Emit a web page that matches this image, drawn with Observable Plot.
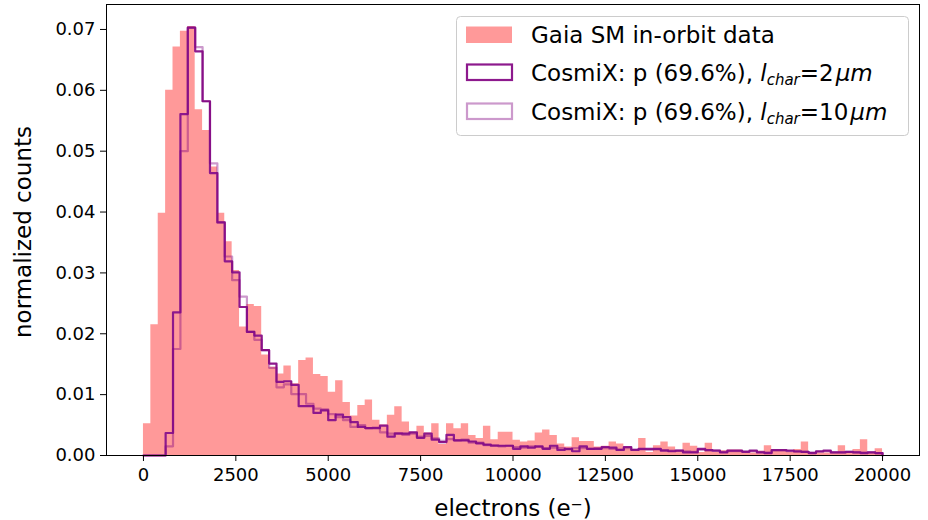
<!DOCTYPE html>
<html>
<head>
<meta charset="utf-8">
<script src="https://cdn.jsdelivr.net/npm/d3@7"></script>
<script src="https://cdn.jsdelivr.net/npm/@observablehq/plot@0.6"></script>
<style>
  body { margin: 0; background: #fff; }
  #chart { position: relative; width: 928px; height: 520px; }
</style>
</head>
<body>
<div id="chart"></div>
<script>
// ---- data ----
const binWidth = 200;
const gaia = [
  0.0052, 0.0215, 0.0398, 0.0600, 0.0671, 0.0697, 0.0705, 0.0568, 0.0534, 0.0474,
  0.0398, 0.0351, 0.0304, 0.0211, 0.0248, 0.0245, 0.0165, 0.0145, 0.0134, 0.0147,
  0.0118, 0.0156, 0.0160, 0.0133, 0.0130, 0.0104, 0.0123, 0.0087, 0.0065, 0.0082,
  0.0091, 0.0058, 0.0050, 0.0066, 0.0080, 0.0055, 0.0038, 0.0048, 0.0037, 0.0052,
  0.0018, 0.0052, 0.0044, 0.0052, 0.0033, 0.0028, 0.0048, 0.0026, 0.0038, 0.0038,
  0.0025, 0.0022, 0.0024, 0.0037, 0.0042, 0.0033, 0.0019, 0.0014, 0.0029, 0.0023,
  0.0023, 0.0014, 0.0015, 0.0022, 0.0019, 0.0014, 0.0010, 0.0028, 0.0005, 0.0016,
  0.0022, 0.0014, 0.0008, 0.0020, 0.0015, 0.0005, 0.0020, 0.0005, 0.0008, 0.0009,
  0.0009, 0.0006, 0.0004, 0.0007, 0.0016, 0.0010, 0.0010, 0.0005, 0.0010, 0.0022,
  0.0005, 0.0004, 0.0004, 0.0005, 0.0016, 0.0004, 0.0010, 0.0026, 0.0004, 0.0011
];
const cosmix2 = [
  0.0000, 0.0000, 0.0000, 0.0037, 0.0235, 0.0561, 0.0703, 0.0664, 0.0582, 0.0464,
  0.0383, 0.0319, 0.0301, 0.0244, 0.0203, 0.0197, 0.0173, 0.0151, 0.0121, 0.0122,
  0.0116, 0.0081, 0.0081, 0.0070, 0.0074, 0.0058, 0.0067, 0.0063, 0.0055, 0.0047,
  0.0045, 0.0045, 0.0049, 0.0031, 0.0036, 0.0036, 0.0038, 0.0029, 0.0036, 0.0026,
  0.0022, 0.0034, 0.0025, 0.0025, 0.0023, 0.0020, 0.0018, 0.0016, 0.0016, 0.0016,
  0.0011, 0.0015, 0.0013, 0.0015, 0.0011, 0.0016, 0.0009, 0.0011, 0.0007, 0.0015,
  0.0011, 0.0011, 0.0014, 0.0013, 0.0009, 0.0014, 0.0009, 0.0011, 0.0011, 0.0011,
  0.0008, 0.0007, 0.0008, 0.0005, 0.0005, 0.0011, 0.0009, 0.0008, 0.0005, 0.0008,
  0.0008, 0.0006, 0.0008, 0.0005, 0.0004, 0.0009, 0.0009, 0.0008, 0.0007, 0.0006,
  0.0004, 0.0007, 0.0008, 0.0005, 0.0005, 0.0006, 0.0005, 0.0004, 0.0005, 0.0004
];
const cosmix10 = [
  0.0000, 0.0000, 0.0000, 0.0015, 0.0175, 0.0500, 0.0703, 0.0671, 0.0582, 0.0480,
  0.0383, 0.0327, 0.0288, 0.0261, 0.0203, 0.0190, 0.0173, 0.0144, 0.0112, 0.0117,
  0.0101, 0.0101, 0.0085, 0.0077, 0.0076, 0.0068, 0.0063, 0.0058, 0.0047, 0.0050,
  0.0045, 0.0046, 0.0038, 0.0036, 0.0037, 0.0034, 0.0036, 0.0031, 0.0032, 0.0028,
  0.0024, 0.0027, 0.0025, 0.0026, 0.0021, 0.0021, 0.0017, 0.0017, 0.0015, 0.0016,
  0.0014, 0.0013, 0.0015, 0.0014, 0.0012, 0.0013, 0.0012, 0.0010, 0.0012, 0.0012,
  0.0011, 0.0012, 0.0012, 0.0011, 0.0010, 0.0012, 0.0010, 0.0010, 0.0009, 0.0010,
  0.0009, 0.0008, 0.0008, 0.0007, 0.0006, 0.0009, 0.0008, 0.0008, 0.0006, 0.0007,
  0.0007, 0.0007, 0.0007, 0.0006, 0.0005, 0.0008, 0.0008, 0.0007, 0.0006, 0.0006,
  0.0005, 0.0006, 0.0007, 0.0005, 0.0005, 0.0006, 0.0005, 0.0005, 0.0005, 0.0004
];
const xTicks = [0, 2500, 5000, 7500, 10000, 12500, 15000, 17500, 20000];
const yTicks = [0, 0.01, 0.02, 0.03, 0.04, 0.05, 0.06, 0.07];
const xLabel = "electrons (e\u207B)";
const yLabel = "normalized counts";
const legendLabels = ["Gaia SM in-orbit data", "CosmiX: p (69.6%), ", "CosmiX: p (69.6%), "];
const lcharValues = ["2", "10"];

// ---- derived tables ----
function stepPoints(vals) {
  const pts = [{x: 0, y: 0}];
  vals.forEach((v, i) => pts.push({x: i * binWidth, y: v}));
  const end = vals.length * binWidth;
  pts.push({x: end, y: vals[vals.length - 1]});
  pts.push({x: end, y: 0});
  return pts;
}
const gaiaPts = stepPoints(gaia);
const darkPts = stepPoints(cosmix2);
const lightPts = stepPoints(cosmix10);

const C_GAIA = "#ff9999";
const C_DARK = "#8d198d";
const C_LIGHT = "#800080";

const svg = Plot.plot({
  width: 928,
  height: 520,
  marginLeft: 106,
  marginRight: 9,
  marginTop: 4,
  marginBottom: 65,
  style: {fontFamily: "DejaVu Sans", color: "black", background: "white"},
  x: {domain: [-1000, 21000]},
  y: {domain: [0, 0.0741]},
  marks: [
    Plot.areaY(gaiaPts, {x: "x", y: "y", curve: "step-after", fill: C_GAIA}),
    Plot.line(darkPts, {x: "x", y: "y", curve: "step-after", stroke: C_DARK, strokeWidth: 2.2}),
    Plot.line(lightPts, {x: "x", y: "y", curve: "step-after", stroke: C_LIGHT, strokeOpacity: 0.4, strokeWidth: 2.2}),
    Plot.frame({stroke: "black", strokeWidth: 1}),
    Plot.axisX({ticks: xTicks, tickFormat: d => String(d), tickSize: 6, tickPadding: 7, fontSize: 18, label: null}),
    Plot.axisY({ticks: yTicks, tickFormat: d3.format(".2f"), tickSize: 6, tickPadding: 5, fontSize: 18, label: null})
  ]
});

const root = d3.select(svg);
// ---- axis titles ----
root.append("text").attr("transform", "translate(23,232) rotate(-90)")
  .attr("text-anchor", "middle").attr("dominant-baseline", "central")
  .attr("font-family", "DejaVu Sans").attr("font-size", 23).attr("fill", "black").text(yLabel);
root.append("text").attr("x", 513).attr("y", 508)
  .attr("text-anchor", "middle").attr("dominant-baseline", "central")
  .attr("font-family", "DejaVu Sans").attr("font-size", 23).attr("fill", "black").text(xLabel);

// ---- legend ----
const g = root.append("g").attr("font-family", "DejaVu Sans").attr("font-size", 23).attr("text-anchor", "start").attr("fill", "black");
g.append("rect").attr("x", 456.5).attr("y", 16.5).attr("width", 452).attr("height", 119)
  .attr("rx", 4).attr("fill", "white").attr("fill-opacity", 0.8).attr("stroke", "#cccccc");
const rowsY = [43, 81, 120];
g.append("rect").attr("x", 466).attr("y", rowsY[0] - 16.5).attr("width", 46).attr("height", 16.5).attr("fill", C_GAIA);
g.append("rect").attr("x", 467).attr("y", rowsY[1] - 16.5).attr("width", 45).attr("height", 15.5)
  .attr("fill", "none").attr("stroke", C_DARK).attr("stroke-width", 2.2);
g.append("rect").attr("x", 467).attr("y", rowsY[2] - 16.5).attr("width", 45).attr("height", 15.5)
  .attr("fill", "none").attr("stroke", C_LIGHT).attr("stroke-opacity", 0.4).attr("stroke-width", 2.2);
g.append("text").attr("x", 531).attr("y", rowsY[0]).text(legendLabels[0]);
[1, 2].forEach((k) => {
  const t = g.append("text").attr("x", 531).attr("y", rowsY[k]);
  t.append("tspan").text(legendLabels[k]);
  t.append("tspan").attr("font-style", "italic").text("l");
  t.append("tspan").attr("font-style", "italic").attr("font-size", 15).attr("dy", 4).text("char");
  t.append("tspan").attr("dy", -4).text("=" + lcharValues[k - 1]);
  t.append("tspan").attr("dx", 2).attr("font-style", "italic").text("\u03BCm");
});

document.getElementById("chart").appendChild(svg);
</script>
</body>
</html>
